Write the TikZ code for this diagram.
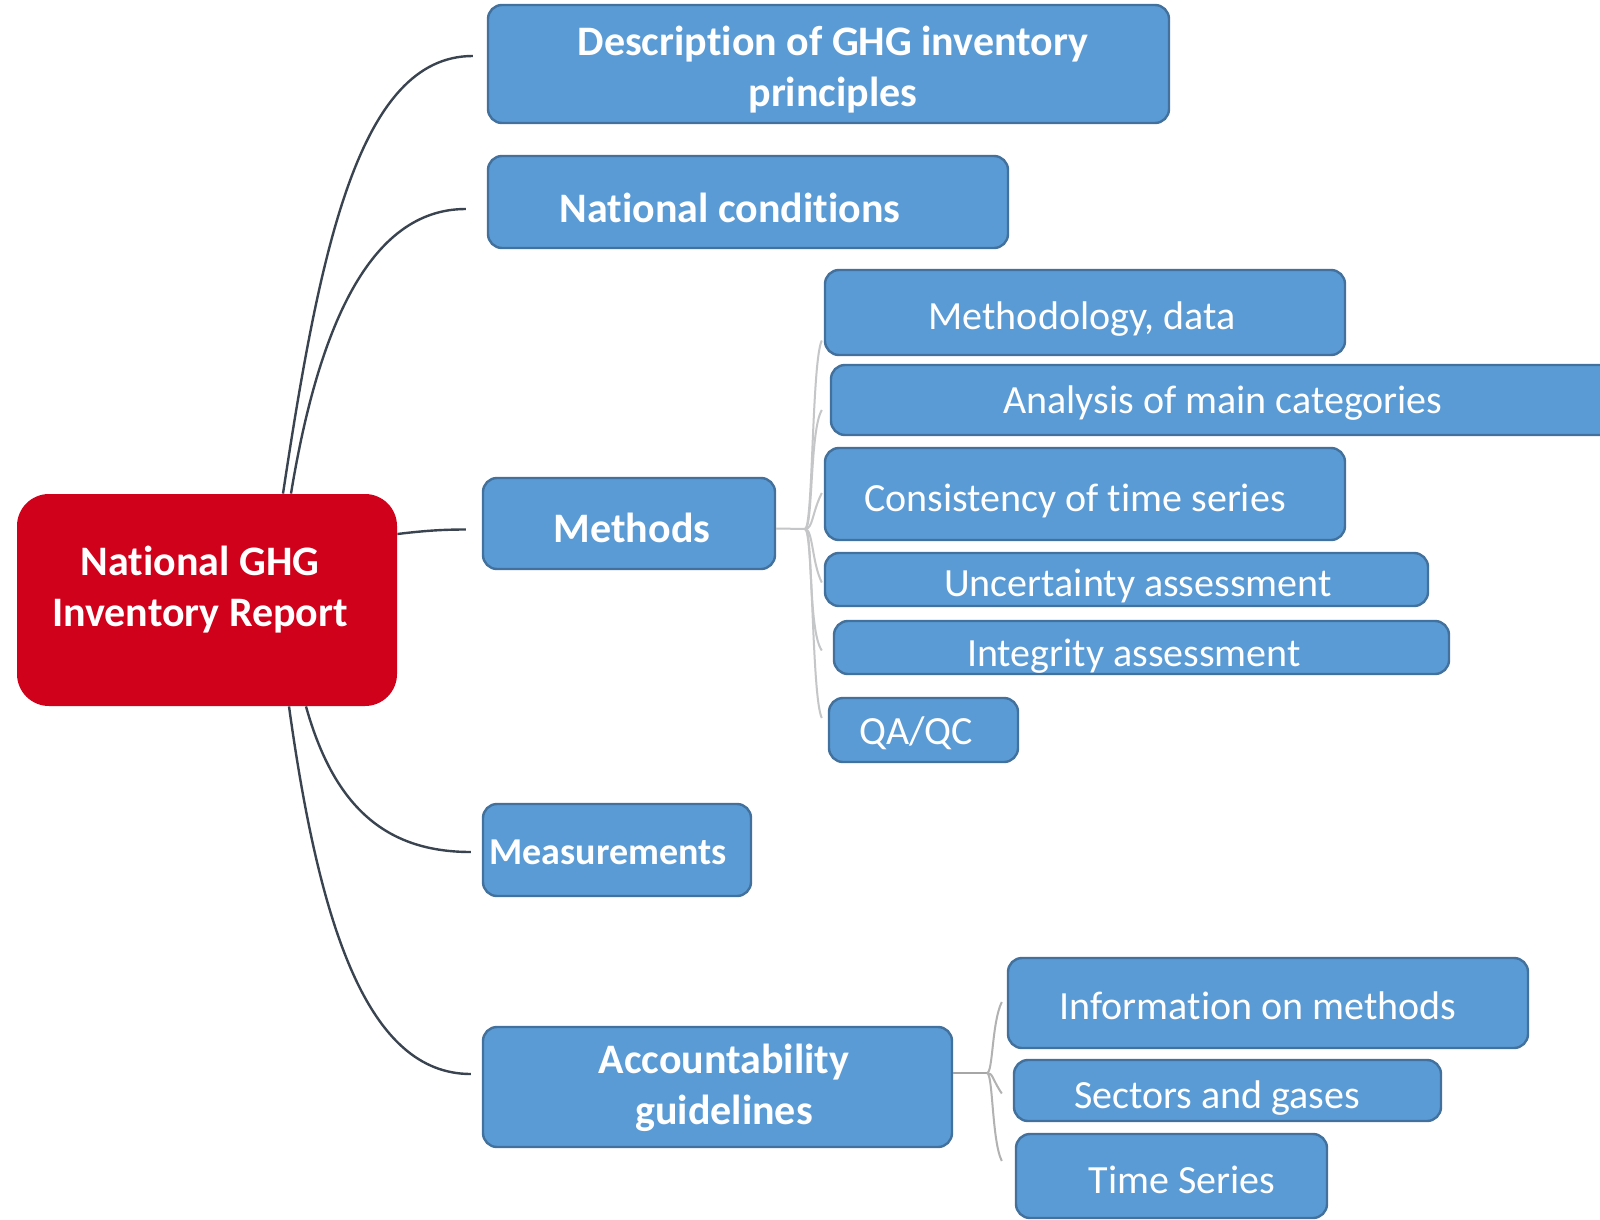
\documentclass[tikz,border=0pt]{standalone}
\usepackage{fontspec}
\setmainfont[Ligatures=NoCommon]{Carlito}
\usetikzlibrary{fit}
\definecolor{boxfill}{HTML}{5B9BD5}
\definecolor{boxline}{HTML}{41719C}
\definecolor{rootred}{HTML}{D0011B}
\definecolor{connclr}{HTML}{3A4450}
\definecolor{braceclr}{HTML}{C4C6C8}
\begin{document}
\begin{tikzpicture}[x=0.5pt,y=-0.5pt,
 mmbox/.style={draw=boxline, fill=boxfill, line width=1.2pt, rounded corners=7pt, inner sep=0pt},
 rootbox/.style={fill=rootred, rounded corners=16pt, inner sep=0pt},
 boldtxt/.style={text=white, font=\bfseries\fontsize{21}{25.5}\selectfont, align=center, inner sep=0pt},
 plaintxt/.style={text=white, font=\fontsize{20}{24}\selectfont, inner sep=0pt},
 mainlink/.style={draw=connclr, line width=1.2pt},
 bracelink/.style={draw=braceclr, line width=1pt}]
\clip (0,0) rectangle (1600,1220);
\fill[white] (0,0) rectangle (1600,1220);

% root
\node[rootbox, fit={(17,494) (397,706)}] (root) {};
\node[boldtxt] (roott) at (200,590) {National GHG\\Inventory Report};

% first level
\node[mmbox, fit={(488,5) (1169,123)}] (desc) {};
\node[boldtxt] (desct) at (833,70) {Description of GHG inventory\\principles};
\node[mmbox, fit={(488,156) (1008,248)}] (natc) {};
\node[boldtxt] (natct) at (730,208) {National conditions};
\node[mmbox, fit={(483,478) (775,569)}] (meth) {};
\node[boldtxt] (metht) at (632,528) {Methods};
\node[mmbox, fit={(483,804) (751,896)}] (meas) {};
\node[boldtxt, font=\bfseries\fontsize{19}{23}\selectfont] (meast) at (608,852) {Measurements};
\node[mmbox, fit={(483,1027) (952,1147)}] (acc) {};
\node[boldtxt] (acct) at (724,1088) {Accountability\\guidelines};

% methods children
\node[mmbox, fit={(825,270) (1345,355)}] (mdata) {};
\node[plaintxt] (mdatat) at (1082,319) {Methodology, data};
\node[mmbox, fit={(831,365) (1615,435)}] (mcat) {};
\node[plaintxt] (mcatt) at (1223,403) {Analysis of main categories};
\node[mmbox, fit={(825,448) (1345,540)}] (mcons) {};
\node[plaintxt] (mconst) at (1075,501) {Consistency of time series};
\node[mmbox, fit={(825,553) (1428,606)}] (munc) {};
\node[plaintxt] (munct) at (1138,586) {Uncertainty assessment};
\node[mmbox, fit={(834,621) (1449,674)}] (mint) {};
\node[plaintxt] (mintt) at (1134,656) {Integrity assessment};
\node[mmbox, fit={(829,698) (1018,762)}] (mqa) {};
\node[plaintxt] (mqat) at (916,733) {QA/QC};

% accountability children
\node[mmbox, fit={(1008,958) (1528,1048)}] (ainfo) {};
\node[plaintxt] (ainfot) at (1258,1006) {Information on methods};
\node[mmbox, fit={(1014,1060) (1441,1121)}] (asec) {};
\node[plaintxt] (asect) at (1217,1098) {Sectors and gases};
\node[mmbox, fit={(1016,1134) (1327,1218)}] (atime) {};
\node[plaintxt] (atimet) at (1182,1180) {Time Series};

% main connectors
\draw[mainlink] ([shift={(76,0)}]root.north) .. controls +(37,-244) and +(-114,0) .. ([shift={(-14,-8)}]desc.west);
\draw[mainlink] ([shift={(84,0)}]root.north) .. controls +(27,-164) and +(-97,0) .. ([shift={(-21,7)}]natc.west);
\draw[mainlink] ([shift={(0,-66)}]root.east) .. controls +(25,-3) and +(-25,0) .. ([shift={(-16,6)}]meth.west);
\draw[mainlink] ([shift={(99,0)}]root.south) .. controls +(29,104) and +(-82,0) .. ([shift={(-11,2)}]meas.west);
\draw[mainlink] ([shift={(82,0)}]root.south) .. controls +(31,224) and +(-102,0) .. ([shift={(-11,-13)}]acc.west);

% methods brace
\coordinate (mhub) at (805,529);
\draw[bracelink] ([shift={(0,5)}]meth.east) -- (mhub);
\draw[bracelink] (mhub) .. controls +(8,0) and +(-10,20) .. ([shift={(-2,28)}]mdata.west);
\draw[bracelink] (mhub) .. controls +(8,0) and +(-12,20) .. ([shift={(-8,10)}]mcat.west);
\draw[bracelink] (mhub) .. controls +(8,0) and +(-10,20) .. ([shift={(-2,-1)}]mcons.west);
\draw[bracelink] (mhub) .. controls +(8,0) and +(-10,-20) .. ([shift={(-2,3)}]munc.west);
\draw[bracelink] (mhub) .. controls +(8,0) and +(-14,-20) .. ([shift={(-11,3)}]mint.west);
\draw[bracelink] (mhub) .. controls +(8,0) and +(-10,-20) .. ([shift={(-6,-12)}]mqa.west);

% accountability brace
\coordinate (ahub) at (987,1073);
\draw[bracelink, draw=gray!70] ([shift={(0,-14)}]acc.east) -- (ahub);
\draw[bracelink, draw=gray!60] (ahub) .. controls +(6,0) and +(-10,20) .. ([shift={(-5,-1)}]ainfo.west);
\draw[bracelink, draw=gray!60] (ahub) .. controls +(6,0) and +(-10,-15) .. ([shift={(-11,3)}]asec.west);
\draw[bracelink, draw=gray!60] (ahub) .. controls +(6,0) and +(-10,-20) .. ([shift={(-13,-15)}]atime.west);
\end{tikzpicture}
\end{document}
